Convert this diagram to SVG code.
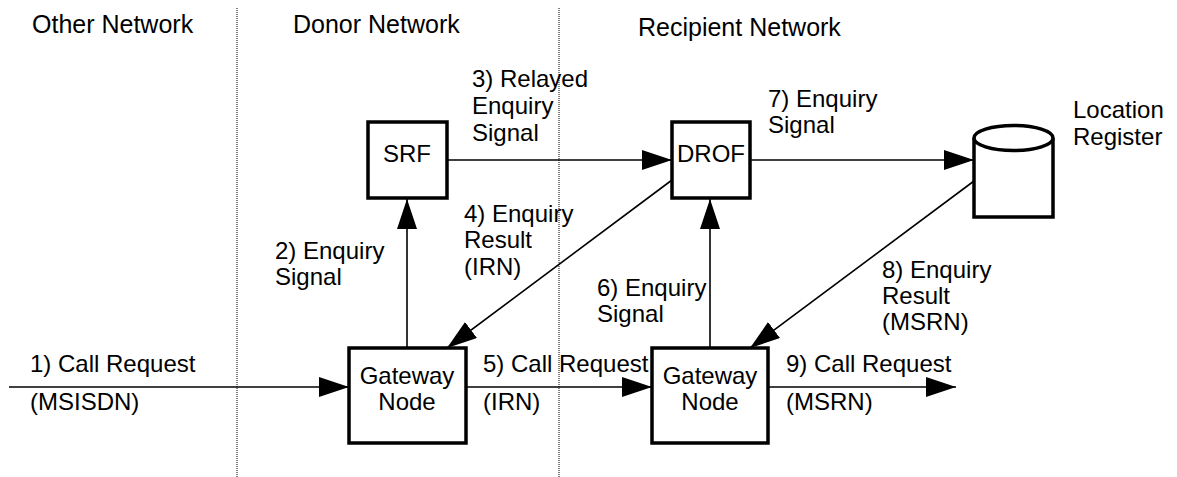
<svg xmlns="http://www.w3.org/2000/svg" width="1177" height="477" viewBox="0 0 1177 477">
<style>
text{font-family:"Liberation Sans",Arial,sans-serif;fill:#000}
.h{font-size:25px}
.l{font-size:24px}
.c{text-anchor:middle}
.box{fill:#fff;stroke:#000;stroke-width:3.5}
.edge{stroke:#000;stroke-width:1.6;fill:none}
.div{stroke:#000;stroke-width:1;stroke-dasharray:1 1}
</style>
<defs>
<marker id="ah" markerUnits="userSpaceOnUse" markerWidth="30" markerHeight="20" refX="30" refY="10" orient="auto" viewBox="0 0 30 20">
<path d="M0,0 L30,10 L0,20 z" fill="#000"/>
</marker>
</defs>
<rect width="1177" height="477" fill="#fff"/>
<g id="dividers">
<line class="div" x1="237" y1="8" x2="237" y2="477"/>
<line class="div" x1="559" y1="8" x2="559" y2="477"/>
</g>
<g id="headers">
<text class="h" x="32" y="33">Other Network</text>
<text class="h" x="293" y="33">Donor Network</text>
<text class="h" x="638" y="36">Recipient Network</text>
</g>
<g id="connectors">
<line class="edge" x1="9" y1="387" x2="349" y2="387" marker-end="url(#ah)"/>
<line class="edge" x1="407" y1="348" x2="407" y2="199" marker-end="url(#ah)"/>
<line class="edge" x1="447" y1="160" x2="672" y2="160" marker-end="url(#ah)"/>
<line class="edge" x1="672" y1="180" x2="447" y2="348" marker-end="url(#ah)"/>
<line class="edge" x1="466" y1="387" x2="652" y2="387" marker-end="url(#ah)"/>
<line class="edge" x1="710" y1="348" x2="710" y2="199" marker-end="url(#ah)"/>
<line class="edge" x1="750" y1="160" x2="974" y2="160" marker-end="url(#ah)"/>
<line class="edge" x1="974" y1="181" x2="750" y2="348" marker-end="url(#ah)"/>
<line class="edge" x1="768" y1="387" x2="956" y2="387" marker-end="url(#ah)"/>
</g>
<g id="labels">
<text class="l" x="30" y="372">1) Call Request</text>
<text class="l" x="30" y="410">(MSISDN)</text>
<text class="l" x="275" y="259">2) Enquiry</text>
<text class="l" x="275" y="285">Signal</text>
<text class="l" x="472" y="87">3) Relayed</text>
<text class="l" x="472" y="114">Enquiry</text>
<text class="l" x="472" y="141">Signal</text>
<text class="l" x="464" y="222">4) Enquiry</text>
<text class="l" x="464" y="248">Result</text>
<text class="l" x="464" y="275">(IRN)</text>
<text class="l" x="483" y="372">5) Call Request</text>
<text class="l" x="483" y="410">(IRN)</text>
<text class="l" x="597" y="296">6) Enquiry</text>
<text class="l" x="597" y="322">Signal</text>
<text class="l" x="768" y="107">7) Enquiry</text>
<text class="l" x="768" y="133">Signal</text>
<text class="l" x="882" y="278">8) Enquiry</text>
<text class="l" x="882" y="304">Result</text>
<text class="l" x="882" y="330">(MSRN)</text>
<text class="l" x="786" y="372">9) Call Request</text>
<text class="l" x="786" y="410">(MSRN)</text>
</g>
<g id="srf">
<rect class="box" x="368" y="122" width="79" height="76"/>
<text class="l c" x="407" y="162">SRF</text>
</g>
<g id="drof">
<rect class="box" x="672" y="122" width="78" height="76"/>
<text class="l c" x="711" y="162">DROF</text>
</g>
<g id="gateway1">
<rect class="box" x="349" y="348" width="117" height="95"/>
<text class="l c" x="407" y="384">Gateway</text>
<text class="l c" x="407" y="410">Node</text>
</g>
<g id="gateway2">
<rect class="box" x="652" y="348" width="116" height="95"/>
<text class="l c" x="710" y="384">Gateway</text>
<text class="l c" x="710" y="410">Node</text>
</g>
<g id="location-register">
<path class="box" d="M974,138 L974,217 L1053,217 L1053,138"/>
<ellipse class="box" cx="1013.5" cy="138" rx="39.5" ry="12.5"/>
<text class="l" x="1073" y="118">Location</text>
<text class="l" x="1073" y="145">Register</text>
</g>
</svg>
